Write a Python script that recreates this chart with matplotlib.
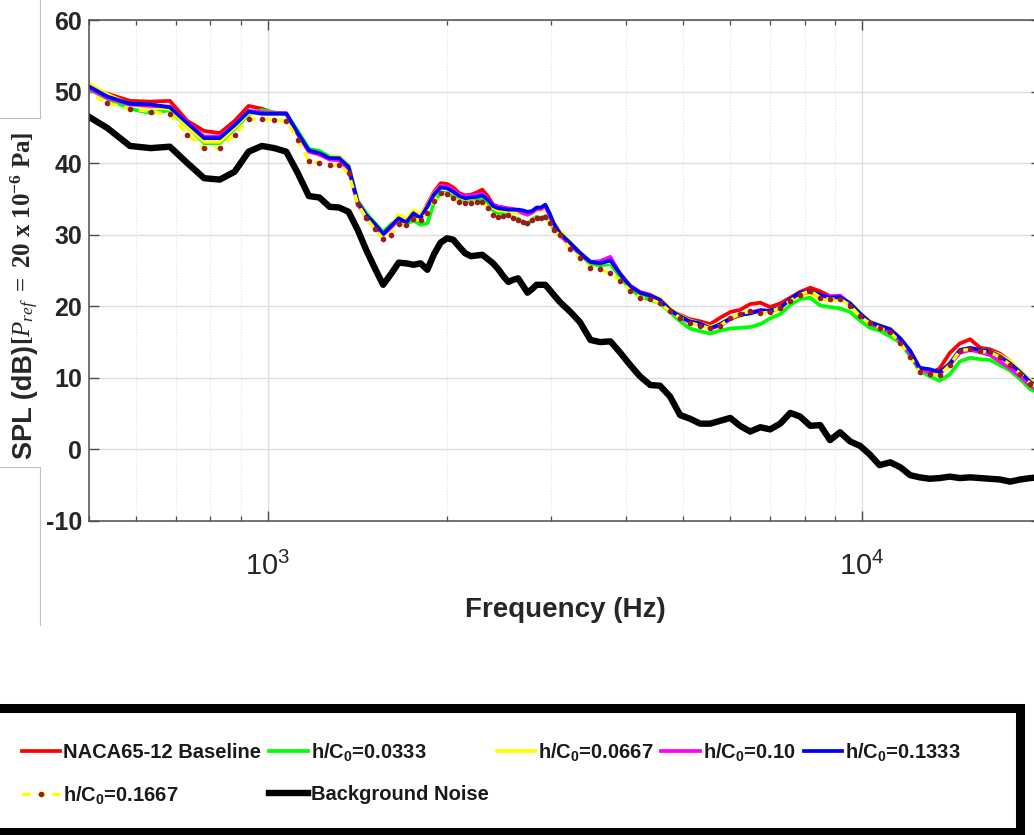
import matplotlib
matplotlib.use('Agg')
import matplotlib.pyplot as plt
from matplotlib.lines import Line2D
from matplotlib.patches import Rectangle
from matplotlib.ticker import FixedLocator, NullFormatter, LogLocator

plt.rcParams['font.family'] = ['Liberation Sans', 'DejaVu Sans']
plt.rcParams['mathtext.fontset'] = 'custom'
plt.rcParams['mathtext.rm'] = 'Liberation Sans'
plt.rcParams['mathtext.sf'] = 'Liberation Sans:bold'
plt.rcParams['mathtext.bf'] = 'Liberation Serif:bold'
plt.rcParams['mathtext.it'] = 'Liberation Serif:italic'

# narrowband bins (df ~ 48.8 Hz) up to 3 kHz, then sparser readings
FREQ = [488, 537, 586, 635, 684, 732, 781, 830, 879, 928,
        977, 1025, 1074, 1123, 1172, 1221, 1270, 1318, 1367, 1416,
        1465, 1514, 1563, 1611, 1660, 1709, 1758, 1807, 1855, 1904,
        1953, 2002, 2051, 2100, 2148, 2197, 2246, 2295, 2344, 2393,
        2441, 2490, 2539, 2588, 2637, 2686, 2734, 2783, 2832, 2881,
        2930, 2979, 3027,
        3100, 3230, 3350, 3490, 3620, 3770, 3910, 4070, 4230, 4400,
        4570, 4750, 4940, 5130, 5340, 5550, 5770, 6000, 6230, 6480,
        6740, 7000, 7280, 7570, 7860, 8180, 8500, 8830, 9180, 9550,
        9920, 10300, 10700, 11150, 11600, 12050, 12500, 13000, 13500, 14050,
        14600, 15200, 15800, 16400, 17050, 17750, 18450, 19200, 19950]

SPL_BASELINE = [51.0, 49.7, 48.7, 48.6, 48.7, 45.9, 44.5, 44.2, 45.9, 48.0,
                47.6, 47.0, 46.9, 44.3, 41.9, 41.3, 40.6, 40.5, 39.3, 34.5,
                32.5, 31.3, 30.1, 31.4, 32.4, 32.0, 33.1, 32.6, 34.3, 36.0,
                37.2, 37.1, 36.6, 35.8, 35.5, 35.6, 35.9, 36.3, 35.4, 34.2,
                33.9, 33.8, 33.6, 33.4, 33.3, 33.1, 33.0, 33.2, 33.6, 33.6,
                34.0, 32.8, 31.5,
                30.0, 28.6, 27.3, 26.0, 25.8, 26.0, 24.3, 22.7, 21.8, 21.4,
                20.7, 19.5, 18.8, 18.2, 17.9, 17.5, 18.4, 19.2, 19.5, 20.3,
                20.5, 19.9, 20.4, 21.2, 22.0, 22.6, 22.1, 21.4, 21.2, 20.3,
                19.0, 17.6, 17.0, 16.5, 15.2, 13.3, 11.0, 10.6, 11.3, 13.5,
                14.8, 15.4, 14.2, 14.0, 13.4, 12.3, 10.8, 9.3, 8.4]

SPL_H0333 = [50.8, 49.0, 47.6, 47.0, 47.4, 45.0, 42.8, 42.8, 44.8, 46.8,
             47.4, 47.1, 46.9, 44.5, 42.0, 41.7, 40.9, 40.9, 39.7, 34.8,
             33.0, 31.6, 30.4, 31.4, 31.9, 31.5, 32.0, 31.4, 31.6, 34.5,
             35.9, 35.8, 35.3, 34.8, 34.6, 34.8, 34.8, 35.0, 34.3, 33.4,
             33.0, 33.1, 32.7, 32.4, 32.2, 31.8, 31.4, 32.1, 32.5, 32.3,
             32.6, 31.8, 30.8,
             30.0, 28.5, 27.3, 25.9, 25.7, 25.9, 24.2, 22.4, 21.4, 20.9,
             20.4, 19.2, 17.9, 16.9, 16.5, 16.2, 16.6, 16.9, 17.0, 17.1,
             17.5, 18.3, 18.9, 20.2, 21.0, 21.2, 20.1, 19.9, 19.7, 19.2,
             18.0, 17.0, 16.6, 15.8, 14.9, 13.0, 11.0, 10.2, 9.6, 10.5,
             12.3, 12.8, 12.6, 12.5, 11.8, 11.0, 9.8, 8.4, 7.8]

SPL_H0667 = [51.6, 49.6, 48.2, 47.8, 47.6, 45.0, 43.0, 43.0, 45.0, 47.0,
             47.0, 46.8, 46.8, 44.0, 41.6, 41.2, 40.8, 40.9, 39.6, 34.8,
             32.6, 31.0, 29.6, 31.2, 32.8, 32.2, 33.4, 32.8, 34.2, 35.8,
             36.8, 36.6, 36.0, 35.3, 35.0, 35.1, 35.4, 35.6, 34.9, 33.8,
             33.4, 33.4, 33.2, 33.2, 33.0, 33.0, 32.8, 33.0, 33.4, 33.4,
             33.7, 33.0, 31.8,
             30.5, 29.0, 27.6, 26.3, 26.1, 26.2, 24.8, 23.0, 22.0, 21.7,
             21.1, 19.7, 18.7, 18.0, 17.6, 17.1, 17.6, 18.4, 18.6, 19.2,
             19.4, 19.2, 19.6, 20.8, 21.5, 21.8, 21.0, 20.8, 20.9, 20.5,
             19.1, 17.9, 17.4, 16.9, 15.6, 13.6, 11.6, 11.0, 10.6, 12.2,
             13.8, 14.0, 13.9, 13.7, 13.2, 12.3, 11.0, 9.6, 8.6]

SPL_H1000 = [50.9, 49.1, 48.2, 48.0, 47.9, 45.7, 43.7, 43.7, 45.4, 47.3,
             47.1, 47.0, 47.0, 44.0, 41.6, 41.2, 40.5, 40.4, 39.2, 34.3,
             32.4, 31.2, 30.0, 31.0, 32.1, 31.8, 32.8, 32.4, 34.0, 35.7,
             36.8, 36.7, 36.2, 35.6, 35.4, 35.5, 35.6, 35.7, 35.0, 34.2,
             33.9, 33.8, 33.7, 33.6, 33.4, 33.0, 32.8, 33.1, 33.6, 33.6,
             34.0, 32.7, 31.2,
             29.9, 28.6, 27.4, 26.2, 26.3, 26.9, 24.6, 22.9, 22.0, 21.6,
             20.8, 19.5, 18.4, 17.8, 17.5, 16.9, 17.3, 18.2, 18.8, 19.1,
             19.5, 19.3, 19.8, 21.0, 21.8, 22.0, 21.5, 21.4, 21.5, 20.3,
             18.8, 17.6, 17.1, 16.4, 15.2, 13.4, 11.2, 10.8, 10.6, 11.8,
             13.5, 13.9, 13.6, 13.2, 12.3, 11.3, 10.2, 8.9, 8.0]

SPL_H1333 = [51.2, 49.3, 48.3, 48.2, 47.8, 45.6, 43.5, 43.5, 45.3, 47.2,
             46.9, 46.9, 46.9, 44.2, 41.8, 41.4, 40.7, 40.7, 39.5, 34.6,
             32.7, 31.5, 30.1, 31.2, 32.3, 31.7, 33.0, 32.3, 33.9, 35.6,
             36.6, 36.5, 36.0, 35.4, 35.1, 35.2, 35.3, 35.5, 34.9, 34.0,
             33.7, 33.6, 33.5, 33.5, 33.5, 33.4, 33.2, 33.3, 33.8, 33.8,
             34.2, 33.0, 31.6,
             30.2, 28.8, 27.5, 26.2, 26.0, 26.4, 24.6, 22.8, 21.9, 21.5,
             20.9, 19.5, 18.6, 17.9, 17.6, 16.9, 17.5, 18.3, 18.8, 19.0,
             19.4, 19.4, 19.8, 21.0, 21.9, 22.1, 21.6, 21.2, 21.3, 20.4,
             19.0, 17.8, 17.3, 16.8, 15.5, 13.8, 11.4, 11.2, 10.8, 12.0,
             13.9, 14.2, 13.9, 13.7, 13.0, 12.0, 10.8, 9.4, 8.4]

SPL_H1667 = [50.2, 48.4, 47.6, 47.2, 46.8, 44.0, 42.1, 42.1, 44.0, 46.1,
             46.2, 46.0, 45.9, 43.3, 40.3, 40.0, 39.7, 39.7, 38.6, 34.3,
             32.3, 30.8, 29.4, 30.0, 31.5, 31.3, 32.2, 32.0, 33.0, 34.7,
             35.8, 35.7, 35.1, 34.6, 34.4, 34.5, 34.6, 34.6, 33.8, 32.8,
             32.5, 32.6, 32.7, 32.4, 32.0, 31.8, 31.6, 32.0, 32.3, 32.3,
             32.5, 31.6, 30.6,
             29.9, 28.0, 26.7, 25.4, 25.2, 24.6, 23.6, 22.2, 21.2, 21.0,
             20.4, 19.3, 18.4, 17.7, 17.3, 16.9, 17.3, 18.3, 18.9, 19.3,
             19.0, 19.2, 19.8, 20.8, 21.6, 22.2, 21.2, 21.0, 21.0, 20.1,
             18.6, 17.6, 17.0, 16.4, 14.9, 12.9, 10.8, 10.5, 10.4, 11.8,
             13.8, 14.0, 13.7, 13.6, 12.9, 11.8, 10.6, 9.2, 8.4]

SPL_BACKGROUND = [47.0, 44.9, 42.4, 42.1, 42.3, 40.0, 37.9, 37.7, 38.8, 41.6,
                  42.4, 42.1, 41.6, 38.6, 35.4, 35.2, 33.9, 33.8, 33.2, 30.7,
                  27.8, 25.3, 23.0, 24.5, 26.1, 26.0, 25.8, 26.0, 25.1, 27.3,
                  28.9, 29.5, 29.3, 28.3, 27.4, 27.0, 27.1, 27.2, 26.6, 26.0,
                  25.2, 24.2, 23.4, 23.7, 23.9, 22.9, 21.9, 22.4, 23.0, 23.0,
                  23.0, 22.3, 21.6,
                  20.6, 19.2, 17.8, 15.3, 15.0, 15.1, 13.6, 11.8, 10.2, 9.0,
                  8.9, 7.4, 4.8, 4.3, 3.6, 3.6, 4.0, 4.4, 3.3, 2.5,
                  3.1, 2.8, 3.6, 5.1, 4.6, 3.3, 3.4, 1.3, 2.4, 1.1,
                  0.5, -0.7, -2.2, -1.8, -2.5, -3.6, -3.9, -4.1, -4.0, -3.8,
                  -4.0, -3.9, -4.0, -4.1, -4.2, -4.5, -4.2, -4.0, -3.9]

LABELS = ['NACA65-12 Baseline', r'h/C$_\mathsf{0}$=0.0333', r'h/C$_\mathsf{0}$=0.0667',
          r'h/C$_\mathsf{0}$=0.10', r'h/C$_\mathsf{0}$=0.1333', r'h/C$_\mathsf{0}$=0.1667',
          'Background Noise']

W, H = 1034, 835
fig = plt.figure(figsize=(W / 100, H / 100), dpi=100)
ax = fig.add_axes([89 / W, 1 - 521 / H, (1041 - 89) / W, (521 - 20) / H])

lw = 2.7
h_red, = ax.plot(FREQ, SPL_BASELINE, color='#ff0000', lw=lw)
h_grn, = ax.plot(FREQ, SPL_H0333, color='#00ff00', lw=lw)
h_yel, = ax.plot(FREQ, SPL_H0667, color='#ffff00', lw=lw)
h_mag, = ax.plot(FREQ, SPL_H1000, color='#ff00ff', lw=lw)
h_blu, = ax.plot(FREQ, SPL_H1333, color='#0000ff', lw=lw)
h_dot, = ax.plot(FREQ, SPL_H1667, color='#ffff00', lw=2.4, ls=(0, (2.5, 2.0)),
                 marker='o', ms=3.0, mfc='#9b1c1c', mec='#9b1c1c')
h_blk, = ax.plot(FREQ, SPL_BACKGROUND, color='black', lw=4.6)

ax.set_xscale('log')
ax.set_xlim(500, 20000)
ax.set_ylim(-10, 60)

tick_col = '#262626'
ax.set_yticks(range(-10, 61, 10))
ax.set_yticklabels([str(v) for v in range(-10, 61, 10)],
                   fontsize=18, fontweight='bold', color=tick_col)
ax.xaxis.set_major_locator(FixedLocator([1e3, 1e4]))
ax.set_xticklabels([r'$\mathrm{10^{3}}$', r'$\mathrm{10^{4}}$'], fontsize=21, color=tick_col)
ax.xaxis.set_minor_locator(LogLocator(base=10, subs=range(2, 10), numticks=20))
ax.xaxis.set_minor_formatter(NullFormatter())

ax.tick_params(axis='both', which='major', direction='in', length=7, width=1,
               top=True, right=True, colors='#4d4d4d', labelcolor=tick_col)
ax.tick_params(axis='x', which='major', pad=22)
ax.tick_params(axis='y', which='major', pad=5)
ax.tick_params(axis='x', which='minor', direction='in', length=3.6, width=0.9,
               top=True, colors='#4d4d4d')

ax.grid(True, which='major', color='#dedede', lw=1.0)
ax.grid(True, which='minor', axis='x', color='#e2e2e2', lw=0.8, ls=':')
ax.set_axisbelow(True)
for s in ax.spines.values():
    s.set_color('#4d4d4d')
    s.set_linewidth(1.1)

ax.set_xlabel('Frequency (Hz)', fontsize=20, fontweight='bold', color=tick_col, labelpad=12)

# y label: sans part plus serif reference-pressure part
fig.text(25 / W, 1 - 459 / H, 'SPL (dB)', rotation=90, ha='center', va='bottom',
         fontsize=19.5, fontweight='bold', color=tick_col)
fig.text(25 / W, 1 - 345 / H,
         r'$\mathbf{[}\mathit{P_{ref}}\mathbf{\ =\ 20\ x\ 10^{-6}\ Pa]}$',
         rotation=90, ha='center', va='bottom', fontsize=18, color=tick_col)

# thin frame lines left of the plot
gray = '#c0c0c0'
for xs, ys in [([40, 40], [0, 118]), ([0, 40], [118, 118]),
               ([0, 40], [467, 467]), ([40, 40], [467, 625])]:
    fig.add_artist(Line2D([x / W for x in xs], [1 - y / H for y in ys],
                          transform=fig.transFigure, color=gray, lw=0.8))

# legend box
fig.add_artist(Rectangle((-30 / W, 1 - 832 / H), (1020 + 30) / W, (832 - 707.5) / H,
                         transform=fig.transFigure, fill=False, ec='black', lw=6.5))

handles = [h_red, h_dot, h_grn, h_blk, h_yel, h_mag, h_blu]
labels = [LABELS[0], LABELS[5], LABELS[1], LABELS[6], LABELS[2], LABELS[3], LABELS[4]]
leg = fig.legend(handles, labels, ncol=5, loc='upper left',
                 bbox_to_anchor=(22 / W, 1 - 741 / H), frameon=False,
                 prop={'family': 'Liberation Sans', 'weight': 'bold', 'size': 14.5},
                 handlelength=1.9, handletextpad=0.15, columnspacing=0.4,
                 labelspacing=1.1, borderpad=0, borderaxespad=0)
for t in leg.get_texts():
    t.set_color('#1a1a1a')

fig.savefig('out.png', dpi=100)
